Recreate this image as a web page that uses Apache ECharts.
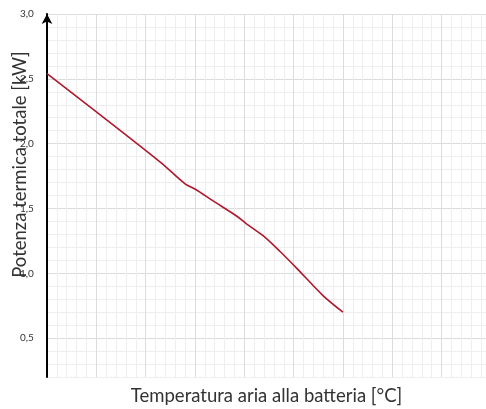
<!DOCTYPE html>
<html>
<head>
<meta charset="utf-8">
<script src="https://cdn.jsdelivr.net/npm/echarts@6/dist/echarts.min.js"></script>
<style>
  html, body { margin: 0; padding: 0; background: #fff; }
  #chart { width: 486px; height: 409px; }
</style>
</head>
<body>
<div id="chart"></div>
<script>
// temperatura aria alla batteria [°C] (asse senza etichette, valori stimati)
var temperature = [-20, 2.9, 8.0, 10.0, 13.6, 18.5, 20.5, 23.8, 27.2, 30.6, 35.9, 40.0];
// potenza termica totale [kW]
var potenza = [2.54, 1.86, 1.69, 1.65, 1.56, 1.44, 1.38, 1.29, 1.17, 1.04, 0.83, 0.70];
var yTicks = ["0,5", "1,0", "1,5", "2,0", "2,5", "3,0"];

var chart = echarts.init(document.getElementById("chart"));

// griglia y ogni 0,1: linea piu scura ogni 0,5 (primo tick = 0,2)
var yLineColors = ["#eeeeee", "#eeeeee", "#eeeeee", "#dcdcdc", "#eeeeee"];

chart.setOption({
  animation: false,
  grid: {
    left: 47,
    right: 0,
    top: 14,
    bottom: 32,
    containLabel: false,
    outerBoundsMode: "none",
  },
  xAxis: {
    type: "value",
    min: -20,
    max: 69,
    interval: 10,
    name: "Temperatura aria alla batteria [°C]",
    nameLocation: "middle",
    nameGap: 10,
    nameMoveOverlap: false,
    nameTextStyle: { fontFamily: "Lato", fontSize: 18.5, color: "#333" },
    axisLine: { show: false },
    axisTick: { show: false },
    axisLabel: { show: false },
    splitLine: { show: true, lineStyle: { color: "#dcdcdc", width: 1 } },
    minorTick: { show: false, splitNumber: 5 },
    minorSplitLine: { show: true, lineStyle: { color: "#eeeeee", width: 1 } },
  },
  yAxis: {
    type: "value",
    min: 0.2,
    max: 3.0,
    interval: 0.1,
    name: "Potenza termica totale [kW]",
    nameLocation: "middle",
    nameGap: 17,
    nameMoveOverlap: false,
    nameTextStyle: {
      fontFamily: "Lato",
      fontSize: 18.5,
      color: "#333",
      padding: [0, 0, 0, 62],
    },
    axisLine: {
      show: true,
      onZero: false,
      symbol: ["none", "arrow"],
      symbolSize: [8, 10],
      lineStyle: { color: "#000", width: 2 },
    },
    axisTick: { show: false },
    axisLabel: {
      fontFamily: "Lato",
      fontSize: 10,
      color: "#333",
      margin: 27,
      align: "left",
      showMinLabel: false,
      formatter: function (v) {
        var s = v.toFixed(1).replace(".", ",");
        return yTicks.indexOf(s) >= 0 ? s : "";
      },
    },
    splitLine: { show: true, lineStyle: { color: yLineColors, width: 1 } },
  },
  series: [
    {
      type: "line",
      data: temperature.map(function (t, i) {
        return [t, potenza[i]];
      }),
      showSymbol: false,
      smooth: 0.3,
      lineStyle: { color: "#b0182e", width: 1.6 },
    },
  ],
});
</script>
</body>
</html>
